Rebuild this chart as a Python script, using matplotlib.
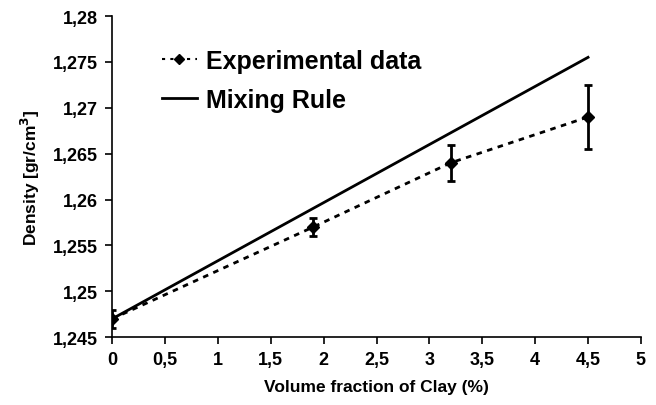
import matplotlib
matplotlib.use("Agg")
import matplotlib.pyplot as plt
from matplotlib.lines import Line2D
from matplotlib.ticker import FuncFormatter, MultipleLocator

plt.rcParams['font.family'] = ['Liberation Sans', 'DejaVu Sans']

# experimental data
clay_x = [0, 1.9, 3.2, 4.5]
density_y = [1.247, 1.257, 1.264, 1.269]
density_err = [0.001, 0.001, 0.002, 0.0035]

# mixing rule
mix_x = [0, 4.5]
mix_y = [1.247, 1.2755]


def comma_fmt(v, pos):
    return ("%g" % round(v, 4)).replace(".", ",")


fig = plt.figure(figsize=(6.56, 4.06), dpi=100)
ax = fig.add_axes([0.171, 0.167, 0.806, 0.791])

ax.errorbar(clay_x, density_y, yerr=density_err, color="black", lw=2,
            linestyle=(0, (2, 2)), marker="D", markersize=6.5, elinewidth=2,
            capsize=3, capthick=2, zorder=3)
ax.plot(mix_x, mix_y, color="black", lw=2, zorder=2)

ax.set_xlim(0, 5)
ax.set_ylim(1.245, 1.28)
ax.xaxis.set_major_locator(MultipleLocator(0.5))
ax.yaxis.set_major_locator(MultipleLocator(0.005))
ax.xaxis.set_major_formatter(FuncFormatter(comma_fmt))
ax.yaxis.set_major_formatter(FuncFormatter(comma_fmt))

for s in ("top", "right"):
    ax.spines[s].set_visible(False)
for s in ("left", "bottom"):
    ax.spines[s].set_linewidth(1.2)
ax.tick_params(direction="out", length=5, width=1.2, labelsize=13, pad=5)
for lab in ax.get_xticklabels() + ax.get_yticklabels():
    lab.set_fontweight("bold")

ax.set_xlabel("Volume fraction of Clay (%)", fontsize=12.5, fontweight="bold", labelpad=8)
ax.set_ylabel("Density [gr/cm$^\\mathbf{3}$]", fontsize=12.5, fontweight="bold", labelpad=8)

handles = [
    Line2D([], [], color="black", lw=1.5, linestyle=(0, (1.5, 2.5)),
           marker="D", markersize=5),
    Line2D([], [], color="black", lw=2),
]
labels = ["Experimental data", "Mixing Rule"]
ax.legend(handles, labels, loc="upper left", bbox_to_anchor=(0.075, 0.93),
          frameon=False, handlelength=1.4, handletextpad=0.35, labelspacing=0.6,
          borderaxespad=0, prop={"size": 18, "weight": "bold"})

fig.savefig("out.png", dpi=100)
